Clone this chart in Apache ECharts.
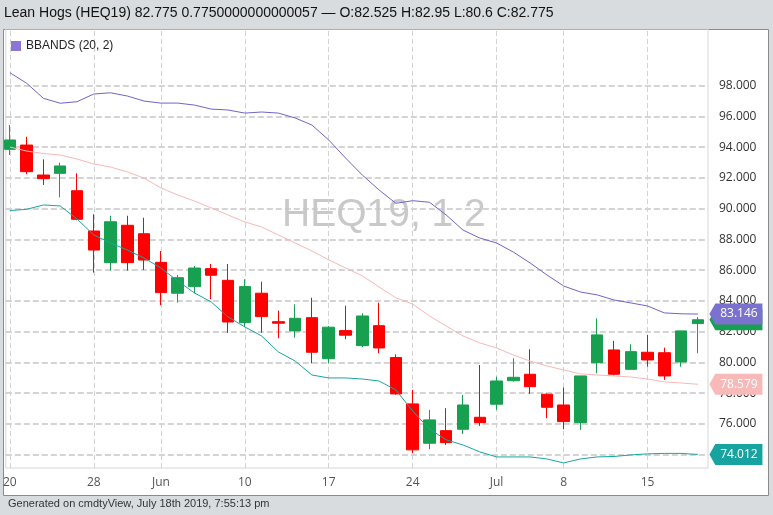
<!DOCTYPE html>
<html>
<head>
<meta charset="utf-8">
<script src="https://cdn.jsdelivr.net/npm/echarts@6/dist/echarts.min.js"></script>
<style>
html,body{margin:0;padding:0;background:#d9dcdf;}
#main{width:773px;height:515px;}
</style>
</head>
<body>
<div id="main"></div>
<script>
// Trading days (index positions on the x axis)
const dates = ['2019-05-20','2019-05-21','2019-05-22','2019-05-23','2019-05-24',
  '2019-05-28','2019-05-29','2019-05-30','2019-05-31',
  '2019-06-03','2019-06-04','2019-06-05','2019-06-06','2019-06-07',
  '2019-06-10','2019-06-11','2019-06-12','2019-06-13','2019-06-14',
  '2019-06-17','2019-06-18','2019-06-19','2019-06-20','2019-06-21',
  '2019-06-24','2019-06-25','2019-06-26','2019-06-27','2019-06-28',
  '2019-07-01','2019-07-02','2019-07-03','2019-07-05',
  '2019-07-08','2019-07-09','2019-07-10','2019-07-11','2019-07-12',
  '2019-07-15','2019-07-16','2019-07-17','2019-07-18'];
const openV  = [93.86,94.14,92.19,92.30,91.17,88.55,86.49,88.92,88.37,86.51,84.50,84.93,86.10,85.34,82.59,84.50,82.65,82.05,82.91,80.24,82.07,81.09,82.39,80.32,77.30,74.74,75.56,75.65,76.43,77.28,78.81,79.23,77.93,77.23,76.08,79.98,80.81,79.55,80.66,80.63,80.03,82.525];
const closeV = [94.47,92.41,91.95,92.78,89.31,87.31,89.15,86.49,86.66,84.54,85.51,86.14,85.67,82.63,84.93,82.98,82.55,82.87,80.66,82.29,81.77,83.02,80.94,77.95,74.31,76.26,74.78,77.23,76.08,78.79,79.03,78.42,77.08,76.15,79.12,81.79,79.23,80.70,80.16,79.12,82.05,82.775];
const lowV   = [93.49,92.24,91.54,90.74,89.25,85.84,85.97,85.97,86.01,83.72,83.89,84.50,84.11,81.92,82.30,81.93,81.57,81.61,79.94,79.94,81.51,80.99,80.60,77.90,74.09,74.35,74.63,75.35,75.87,76.91,78.75,77.95,76.37,75.65,75.61,79.29,79.16,79.55,79.72,78.86,79.72,80.60];
const highV  = [95.44,94.68,93.21,92.99,92.30,89.64,89.54,89.54,89.41,87.25,85.69,86.27,86.40,86.40,85.41,85.25,83.37,83.78,84.21,82.37,83.69,83.20,83.89,80.52,78.21,76.91,77.02,77.88,79.83,79.07,80.27,80.86,77.98,78.36,79.12,82.87,81.40,81.18,81.79,80.96,82.05,82.95];
const upperBand  = [98.85,98.16,97.18,96.86,96.96,97.46,97.54,97.33,97.00,96.87,96.87,96.74,96.48,96.42,96.22,96.29,96.22,95.90,95.44,94.47,93.30,92.19,91.22,90.35,90.52,90.42,89.59,88.61,88.09,87.77,87.18,86.47,85.69,84.97,84.58,84.39,84.06,83.87,83.67,83.22,83.16,83.146];
const middleBand = [94.01,93.75,93.59,93.49,93.23,92.91,92.71,92.39,91.99,91.35,90.89,90.50,90.05,89.59,89.14,88.81,88.29,87.77,87.25,86.67,86.15,85.63,84.91,84.20,83.80,83.02,82.37,81.72,81.27,80.94,80.48,80.09,79.77,79.51,79.25,79.18,79.12,79.05,78.92,78.73,78.66,78.579];
const lowerBand  = [89.88,89.96,90.24,90.18,89.33,88.29,87.77,87.31,86.79,86.14,85.30,84.52,83.93,82.96,82.31,81.72,80.68,80.09,79.18,78.99,78.99,78.92,78.79,78.21,76.84,75.67,74.96,74.63,74.18,73.85,73.85,73.85,73.72,73.46,73.72,73.85,73.88,73.98,74.05,74.08,74.08,74.012];
const xTickIndex  = [0,5,9,14,19,24,29,33,38];
const xTickLabels = ['20','28','Jun','10','17','24','Jul','8','15'];
const yTicks = [74,76,78,80,82,84,86,88,90,92,94,96,98];

const candleData = dates.map((d,i)=>[i, openV[i], closeV[i], lowV[i], highV[i]]);
const toXY = arr => arr.map((v,i)=>[i,v]);
const last = dates.length - 1;

const UP='#17a04f', DOWN='#ff0000';
const badgePath = 'path://M0,10 L6,0 L54,0 L54,20 L6,20 Z';
function badge(val, color){
  return {
    coord:[last, val], value: val.toFixed(3),
    symbol: badgePath, symbolSize:[53,21], symbolOffset:[38,0],
    itemStyle:{color: color},
    label:{show:true, position:'inside', offset:[3,0], color:'#fff', fontSize:12, fontFamily:'Open Sans',
      formatter: p => p.value}
  };
}

const chart = echarts.init(document.getElementById('main'), null, {renderer:'canvas'});
chart.setOption({
  animation:false,
  backgroundColor:'#d9dcdf',
  graphic:[
    {type:'rect', z:-10, shape:{x:3.5,y:29.5,width:765,height:466}, style:{fill:'#ffffff', stroke:'#8a8a8a', lineWidth:1}}
  ],
  title:[
    {text:'Lean Hogs (HEQ19) 82.775 0.7750000000000057 — O:82.525 H:82.95 L:80.6 C:82.775',
     left:2, top:4, padding:2, textStyle:{fontSize:14, fontWeight:'normal', color:'#111', fontFamily:'Liberation Sans'}},
    {text:'Generated on cmdtyView, July 18th 2019, 7:55:13 pm',
     left:6, top:496, padding:2, textStyle:{fontSize:11, fontWeight:'normal', color:'#333', fontFamily:'Liberation Sans'}},
    {text:'HEQ19, 1 2', left:282, top:196, padding:0, z:0,
     textStyle:{fontSize:39, fontWeight:'normal', color:'#c9c9c9', fontFamily:'Liberation Sans'}}
  ],
  legend:{
    left:6, top:35, itemWidth:10, itemHeight:10, itemGap:4, selectedMode:false,
    textStyle:{fontSize:12, color:'#222', fontFamily:'Liberation Sans'},
    data:[{name:'BBANDS (20, 2)', icon:'rect', itemStyle:{color:'#8b76d6'}}]
  },
  grid:{left:5, right:65, top:29, bottom:47, show:true, borderColor:'#d6d6d6', borderWidth:1, backgroundColor:'transparent'},
  xAxis:{
    type:'value', min:-0.24, max:41.6,
    axisLine:{show:false}, axisTick:{show:false}, splitLine:{show:false},
    axisLabel:{customValues:xTickIndex, margin:9, fontSize:12, color:'#555', fontFamily:'Open Sans',
      formatter: v => { const k = xTickIndex.indexOf(Math.round(v)); return k>=0 ? xTickLabels[k] : ''; }}
  },
  yAxis:{
    type:'value', position:'right', min:73.13, max:101.69, scale:true,
    axisLine:{show:false}, axisTick:{show:false}, splitLine:{show:false},
    axisLabel:{customValues:yTicks, margin:11, fontSize:12, color:'#333', fontFamily:'Open Sans',
      formatter: v => v.toFixed(3)}
  },
  series:[
    {
      name:'grid', type:'line', data:toXY(middleBand), z:1, silent:true, symbol:'none',
      lineStyle:{opacity:0},
      markLine:{
        z:1, silent:true, symbol:['none','none'], label:{show:false}, animation:false,
        data:[
          ...yTicks.map(v=>({yAxis:v, lineStyle:{color:'#c6c6c6', type:[6,3], width:1.5}})),
          ...xTickIndex.map(v=>({xAxis:v, lineStyle:{color:'#d2d2d2', type:[5,3], width:1}}))
        ]
      },
      markPoint:{z:5, silent:true, animation:false, data:[badge(closeV[last], UP)]}
    },
    {
      name:'HEQ19', type:'candlestick', z:3, barWidth:12, encode:{x:0, y:[1,2,3,4]},
      data:candleData,
      itemStyle:{color:UP, color0:DOWN, borderColor:UP, borderColor0:DOWN, borderWidth:1}
    },
    {
      name:'BBANDS (20, 2)', type:'line', z:4, data:toXY(upperBand), symbol:'none', silent:true,
      color:'#8b76d6', lineStyle:{color:'#6f66c4', width:1},
      markPoint:{z:8, silent:true, animation:false, data:[badge(upperBand[last], '#7b72cf')]}
    },
    {
      name:'middle', type:'line', z:4, data:toXY(middleBand), symbol:'none', silent:true,
      lineStyle:{color:'#f7b8b8', width:1},
      markPoint:{z:7, silent:true, animation:false, data:[badge(middleBand[last], '#f8b9b9')]}
    },
    {
      name:'lower', type:'line', z:4, data:toXY(lowerBand), symbol:'none', silent:true,
      lineStyle:{color:'#1aa5a0', width:1},
      markPoint:{z:7, silent:true, animation:false, data:[badge(lowerBand[last], '#17a39f')]}
    }
  ]
});
</script>
</body>
</html>
